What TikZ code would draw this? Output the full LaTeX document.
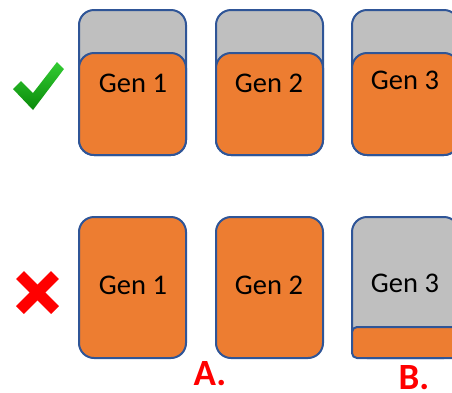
\documentclass[tikz,border=0pt]{standalone}
\usepackage{fontspec}
\setmainfont{Carlito}
\definecolor{boxblue}{HTML}{2F5597}
\definecolor{boxorange}{HTML}{ED7D31}
\definecolor{boxgray}{HTML}{BFBFBF}
\definecolor{okgreen}{HTML}{33CC33}
\definecolor{okdark}{HTML}{0A8A0A}
\begin{document}
\begin{tikzpicture}[x=1pt,y=-1pt,
  genbox/.style={draw=boxblue, line width=2pt, rounded corners=15pt, minimum width=107pt, inner sep=0pt, outer sep=0pt},
  graybox/.style={genbox, fill=boxgray},
  orangebox/.style={genbox, fill=boxorange},
  striporange/.style={genbox, fill=boxorange, rounded corners=5pt},
  gentext/.style={font=\fontsize{28.5}{30}\selectfont, text=black, inner sep=0pt},
  marklabel/.style={font=\fontsize{37}{40}\selectfont\bfseries, text=red, inner sep=0pt, anchor=base}
]
\clip (0,0) rectangle (452,392);
% top row
\node[graybox, minimum height=145pt] (t1g) at (132.5,82.5) {};
\node[orangebox, minimum height=102pt] (t1o) at (132.5,104) {};
\node[graybox, minimum height=145pt] (t2g) at (269.5,82.5) {};
\node[orangebox, minimum height=102pt] (t2o) at (269.5,104) {};
\node[graybox, minimum height=145pt] (t3g) at (405.5,82.5) {};
\node[orangebox, minimum height=102pt] (t3o) at (405.5,104) {};
\node[gentext] (t1t) at (133,83) {Gen 1};
\node[gentext] (t2t) at (269,83) {Gen 2};
\node[gentext] (t3t) at (405,80) {Gen 3};
% bottom row
\node[orangebox, minimum height=141pt] (b1) at (132.5,287.5) {};
\node[orangebox, minimum height=141pt] (b2) at (269.5,287.5) {};
\node[graybox, minimum height=141pt] (b3) at (405.5,287.5) {};
\node[striporange, minimum height=31pt] (b3s) at (405.5,342.5) {};
\node[gentext] (b1t) at (133,285) {Gen 1};
\node[gentext] (b2t) at (269,285) {Gen 2};
\node[gentext] (b3t) at (405,283) {Gen 3};
% check mark
\shade[top color=okgreen, bottom color=okdark]
  (13,89) -- (21,81) -- (33,93) -- (57,62) -- (64,69) -- (33,110) -- cycle;
% cross
\draw[red, line width=11pt] (20,275) -- (55,310);
\draw[red, line width=11pt] (55,275) -- (20,310);
% labels
\node[marklabel] (la) at (210,385) {A.};
\node[marklabel] (lb) at (414,389) {B.};
\end{tikzpicture}
\end{document}
